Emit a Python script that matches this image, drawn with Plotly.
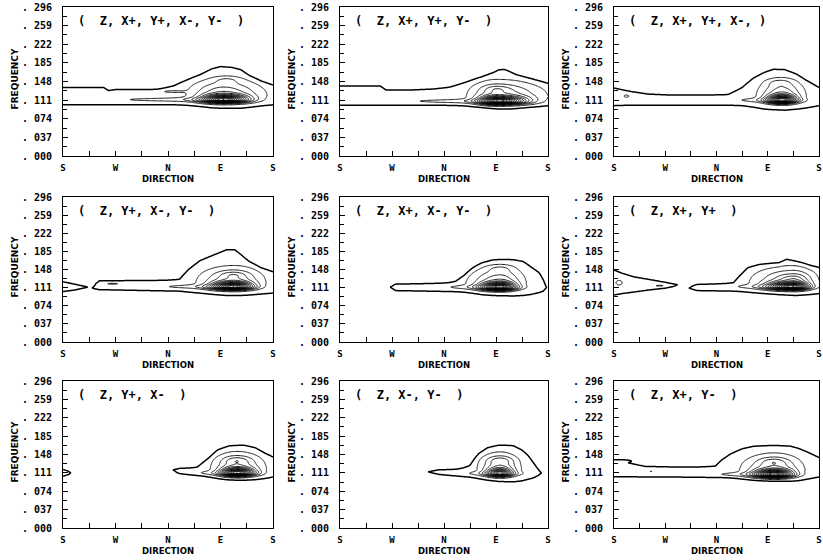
import numpy as np
import plotly.graph_objects as go

# ---------------- data ----------------
TITLES = ["(  Z, X+, Y+, X-, Y-  )", "(  Z, X+, Y+, Y-  )", "(  Z, X+, Y+, X-, )",
          "(  Z, Y+, X-, Y-  )", "(  Z, X+, X-, Y-  )", "(  Z, X+, Y+  )",
          "(  Z, Y+, X-  )", "(  Z, X-, Y-  )", "(  Z, X+, Y-  )"]

X_TICKS = [0, 90, 180, 270, 360]
X_TICK_TEXT = ["S", "W", "N", "E", "S"]
X_MINOR = [45, 135, 225, 315]
Y_TICKS = [0.0, 0.037, 0.074, 0.111, 0.148, 0.185, 0.222, 0.259, 0.296]
Y_TICK_TEXT = [". 000", ". 037", ". 074", ". 111", ". 148", ". 185", ". 222", ". 259", ". 296"]
Y_MINOR = [0.0185, 0.0555, 0.0925, 0.1295, 0.1665, 0.2035, 0.2405, 0.2775]

# outer (lowest) contour: top / bottom frequency at direction stations (None = no energy)
ENV_DIRS = [
    [0, 70, 78, 90, 160, 190, 215, 235, 255, 270, 290, 305, 320, 340, 360],
    [0, 70, 80, 120, 160, 190, 220, 245, 265, 275, 285, 295, 305, 320, 340, 360],
    [0, 30, 60, 100, 160, 200, 225, 245, 265, 280, 300, 320, 335, 360],
    [0, 20, 41, 46, 51, 62, 200, 215, 235, 260, 280, 295, 305, 320, 340, 360],
    [85, 88, 96, 150, 200, 215, 230, 245, 265, 300, 317, 330, 345, 352, 357, 360],
    [0, 15, 35, 60, 90, 110, 118, 128, 133, 145, 210, 225, 235, 255, 290, 303, 320, 345, 360],
    [0, 10, 13, 17, 185, 189, 200, 230, 250, 265, 285, 310, 330, 345, 360],
    [148, 153, 170, 200, 225, 240, 255, 275, 300, 315, 325, 335, 343, 348, 352],
    [0, 30, 55, 100, 150, 178, 188, 205, 225, 245, 280, 310, 325, 340, 360],
]
ENV_TOP = [
    [.136, .136, .130, .132, .132, .137, .148, .158, .172, .177, .175, .170, .155, .142, .136],
    [.139, .139, .131, .131, .133, .136, .143, .152, .163, .170, .171, .165, .158, .152, .145, .139],
    [.135, .128, .123, .121, .121, .122, .135, .153, .165, .171, .170, .160, .148, .135],
    [.123, .118, .112, None, .110, .125, .126, .145, .165, .178, .188, .188, .178, .160, .145, .140],
    [None, .112, .118, .119, .120, .128, .145, .157, .165, .166, .163, .152, .140, .126, .112, None],
    [.147, .140, .133, .128, .122, .117, None, None, .110, .117, .118, .135, .148, .154, .156, .166, .160, .150, .148],
    [.118, .114, .111, None, None, .117, .120, .121, .135, .153, .162, .164, .158, .147, .140],
    [None, .113, .117, .118, .122, .145, .158, .164, .164, .155, .145, .130, .118, .111, None],
    [.136, .130, .124, .123, .123, .124, .135, .148, .158, .163, .164, .163, .158, .151, .141],
]
ENV_BOT = [
    [.102, .102, .102, .102, .102, .102, .101, .099, .096, .095, .095, .095, .097, .100, .102],
    [.101, .101, .101, .101, .101, .101, .100, .098, .095, .094, .094, .094, .095, .097, .099, .101],
    [.100, .101, .101, .101, .101, .101, .100, .097, .093, .092, .091, .093, .095, .100],
    [.103, .106, .112, None, .110, .107, .104, .102, .100, .097, .095, .095, .095, .096, .098, .100],
    [None, .112, .105, .104, .103, .102, .100, .097, .095, .094, .095, .097, .101, .104, .111, None],
    [.096, .099, .102, .106, .110, .117, None, None, .110, .105, .104, .103, .102, .100, .097, .096, .095, .097, .099],
    [.104, .108, .111, None, None, .117, .113, .108, .104, .101, .098, .097, .098, .100, .103],
    [None, .113, .109, .106, .103, .100, .097, .094, .093, .095, .098, .101, .106, .111, None],
    [.103, .103, .103, .103, .103, .103, .103, .102, .100, .098, .096, .095, .096, .099, .103],
]

PEAK_DIR = [275, 272, 295, 292, 277, 315, 298, 277, 282]
PEAK_FREQ = [.112, .109, .111, .113, .112, .113, .111, .110, .108]
PEAK_AMP = [30, 30, 30, 30, 30, 30, 30, 22, 30]
PEAK_SPREAD_L = [24, 20, 17, 24, 22, 29, 17, 15, 23]
PEAK_SPREAD_R = [28, 33, 16, 21, 17, 17, 19, 14, 20]
TAIL_START = [115, 138, 226, 183, 195, 230, 240, 228, 190]
LOBE_DIR = [281, 272, 290, 292, 277, 315, 298, 277, 280]
LOBE_FREQ = [.151, .133, .146, .137, .150, .130, .137, .137, .134]
# small isolated closed contours: (direction, frequency, amplitude, dir spread, freq spread)
EXTRA_BLOBS = [
    [(185, .128, 2.4, 15, .0018)],
    [],
    [(22, .119, 2.6, 6, .003)],
    [(85, .119, 2.4, 14, .0015)],
    [],
    [(9, .121, 2.7, 7, .006), (80, .115, 2.3, 12, .0016)],
    [],
    [],
    [(15, .135, 2.4, 10, .0015), (65, .114, 2.2, 3, .0012)],
]

# ---------------- field construction ----------------
TH = np.arange(0, 361, 2.0)
FR = np.arange(0.080, 0.2001, 0.0005)
T2 = TH[None, :]
F2 = FR[:, None]


def ag(x, c, sl, sr):
    s = np.where(x < c, sl, sr)
    return np.exp(-0.5 * ((x - c) / s) ** 2)


def envelope(dirs, tops, bots):
    t = list(tops)
    b = list(bots)
    n = len(dirs)
    for i in range(n):
        if tops[i] is None:
            j = None
            for k in (i - 1, i + 1):
                if 0 <= k < n and tops[k] is not None:
                    j = k
                    break
            mid = (tops[j] + bots[j]) / 2
            t[i] = mid - 0.004
            b[i] = mid + 0.004
    tc = np.interp(TH, dirs, t)
    bc = np.interp(TH, dirs, b)
    d = np.minimum(tc[None, :] - F2, F2 - bc[None, :])
    return np.where(d > 0, 1 + 0.5 * np.tanh(d / 0.004), 1 + 150 * d)


def field(i):
    z = envelope(ENV_DIRS[i], ENV_TOP[i], ENV_BOT[i])
    tp, fp = PEAK_DIR[i], PEAK_FREQ[i]
    sl, sr = PEAK_SPREAD_L[i], PEAK_SPREAD_R[i]
    z = z + PEAK_AMP[i] * ag(T2, tp, sl, sr) * ag(F2, fp, 0.0045, 0.006)
    z = z + 9 * ag(T2, tp, 1.5 * sl, 1.5 * sr) * ag(F2, fp + 0.012, 0.008, 0.018)
    z = z + 4 * ag(T2, tp, (tp - TAIL_START[i]) / 1.177, 25) * np.exp(-0.5 * ((F2 - fp) / 0.003) ** 2)
    z = z + 2.5 * np.exp(-0.5 * ((T2 - LOBE_DIR[i]) / 15) ** 2) * np.exp(-0.5 * ((F2 - LOBE_FREQ[i]) / 0.005) ** 2)
    for (bd, bf, ba, bs, bfs) in EXTRA_BLOBS[i]:
        z = z + ba * np.exp(-0.5 * ((T2 - bd) / bs) ** 2) * np.exp(-0.5 * ((F2 - bf) / bfs) ** 2)
    return z.astype(np.float32)


# ---------------- layout ----------------
W, H = 823, 560
COL_LEFT = [63, 340, 614]
COL_RIGHT = [273, 548, 819]
ROW_TOP = [7, 197, 381]
ROW_BOT = [156, 342, 528]
MONO = "DejaVu Sans Mono"
SANS = "DejaVu Sans"
BLACK = [[0, "black"], [1, "black"]]

fig = go.Figure()
layout = dict(width=W, height=H, margin=dict(l=0, r=0, t=0, b=0, autoexpand=False),
              paper_bgcolor="white", plot_bgcolor="white", showlegend=False)
annotations = []

for i in range(9):
    r, c = divmod(i, 3)
    n = i + 1
    xa = "x" if n == 1 else f"x{n}"
    ya = "y" if n == 1 else f"y{n}"
    z = field(i)
    fig.add_trace(go.Contour(x=TH, y=FR, z=z, xaxis=xa, yaxis=ya, autocontour=False,
                             contours=dict(start=1, end=1, size=1, coloring="lines"),
                             line=dict(width=1.5, smoothing=1.0), colorscale=BLACK,
                             showscale=False, hoverinfo="skip"))
    fig.add_trace(go.Contour(x=TH, y=FR, z=z, xaxis=xa, yaxis=ya, autocontour=False,
                             contours=dict(start=3.5, end=45, size=2.5, coloring="lines"),
                             line=dict(width=0.9, smoothing=1.0), colorscale=BLACK,
                             showscale=False, hoverinfo="skip"))
    l, rr, t, b = COL_LEFT[c], COL_RIGHT[c], ROW_TOP[r], ROW_BOT[r]
    axcommon = dict(showgrid=False, zeroline=False, showline=True, mirror=True,
                    linecolor="black", linewidth=1, ticks="inside", ticklen=5,
                    tickwidth=1, tickcolor="black", automargin=False)
    layout["xaxis" if n == 1 else f"xaxis{n}"] = dict(
        domain=[l / W, rr / W], anchor=ya, range=[0, 360],
        tickmode="array", tickvals=X_TICKS, ticktext=X_TICK_TEXT,
        minor=dict(tickmode="array", tickvals=X_MINOR, ticks="inside", ticklen=5, tickcolor="black"),
        tickfont=dict(family=MONO, size=9, color="black", weight="bold"),
        ticklabelstandoff=3, **axcommon)
    layout["yaxis" if n == 1 else f"yaxis{n}"] = dict(
        domain=[1 - b / H, 1 - t / H], anchor=xa, range=[0, 0.296],
        tickmode="array", tickvals=Y_TICKS, ticktext=Y_TICK_TEXT,
        minor=dict(tickmode="array", tickvals=Y_MINOR, ticks="inside", ticklen=4, tickcolor="black"),
        tickfont=dict(family=MONO, size=10, color="black", weight="bold"),
        ticklabelstandoff=8, **axcommon)
    annotations.append(dict(text=TITLES[i].replace(" ", "\u00a0"), xref="paper", yref="paper",
                            x=(l + 13) / W, y=1 - (t + 14) / H, xanchor="left", yanchor="middle",
                            showarrow=False, font=dict(family=MONO, size=12, color="black", weight="bold")))
    annotations.append(dict(text="FREQUENCY", xref="paper", yref="paper", textangle=-90,
                            x=(l - 49) / W, y=1 - ((t + b) / 2 - 2) / H, xanchor="center", yanchor="middle",
                            showarrow=False, font=dict(family=SANS, size=9, color="black", weight="bold")))
    annotations.append(dict(text="DIRECTION", xref="paper", yref="paper",
                            x=((l + rr) / 2) / W, y=1 - (b + 23) / H, xanchor="center", yanchor="middle",
                            showarrow=False, font=dict(family=SANS, size=8.5, color="black", weight="bold")))

layout["annotations"] = annotations
fig.update_layout(**layout)
fig.write_html("out.html", config={"displayModeBar": False},
               post_script="document.body.style.margin='0';document.body.style.overflow='hidden';")
